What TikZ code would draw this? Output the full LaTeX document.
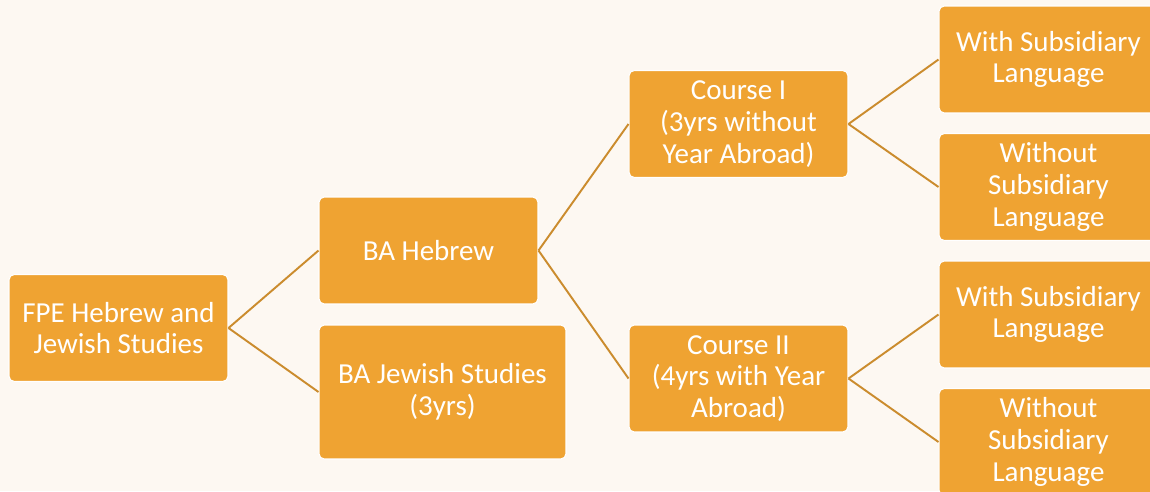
\documentclass[tikz,border=0pt]{standalone}
\usepackage{fontspec}
\setmainfont{Carlito}
\usepackage{xcolor}
\usetikzlibrary{positioning}
\definecolor{bgcream}{HTML}{FDF8F2}
\definecolor{boxorange}{HTML}{EFA332}
\definecolor{linkbrown}{HTML}{CB8C2E}

\begin{document}
\begin{tikzpicture}[x=0.02cm,y=-0.02cm,
  box/.style={fill=boxorange,draw=white,line width=.6pt,rounded corners=3pt,
    text=white,align=center,font=\fontsize{16.5}{18.1}\selectfont,
    minimum width=4.38cm,minimum height=2.14cm,inner sep=2pt},
  link/.style={draw=linkbrown,line width=1.1pt}]
  \fill[bgcream] (0,0) rectangle (1150,491);
  \useasboundingbox (0,0) rectangle (1150,491);
  \clip (0,0) rectangle (1150,491);
  % Levels from left to right.
  \node[box] (fpe) at (118.5,328) {FPE Hebrew and\\Jewish Studies};
  \node[box] (bahebrew) at (428.5,250.5) {BA Hebrew};
  \node[box,minimum width=4.94cm,minimum height=2.68cm] (bajewish) at (442.5,392) {BA Jewish Studies\\(3yrs)};
  \node[box] (course1) at (738.5,124) {Course I\\(3yrs without\\Year Abroad)};
  \node[box] (course2) at (738.5,378.5) {Course II\\(4yrs with Year\\Abroad)};
  \node[box] (with1) at (1048.5,59.5) {With Subsidiary\\Language};
  \node[box] (without1) at (1048.5,187) {Without\\Subsidiary\\Language};
  \node[box] (with2) at (1048.5,314.5) {With Subsidiary\\Language};
  \node[box] (without2) at (1048.5,442) {Without\\Subsidiary\\Language};
  % Branches.
  \draw[link] (fpe.east) -- (bahebrew.west);
  \draw[link] (fpe.east) -- (bajewish.west);
  \draw[link] (bahebrew.east) -- (course1.west);
  \draw[link] (bahebrew.east) -- (course2.west);
  \draw[link] (course1.east) -- (with1.west);
  \draw[link] (course1.east) -- (without1.west);
  \draw[link] (course2.east) -- (with2.west);
  \draw[link] (course2.east) -- (without2.west);
\end{tikzpicture}
\end{document}
